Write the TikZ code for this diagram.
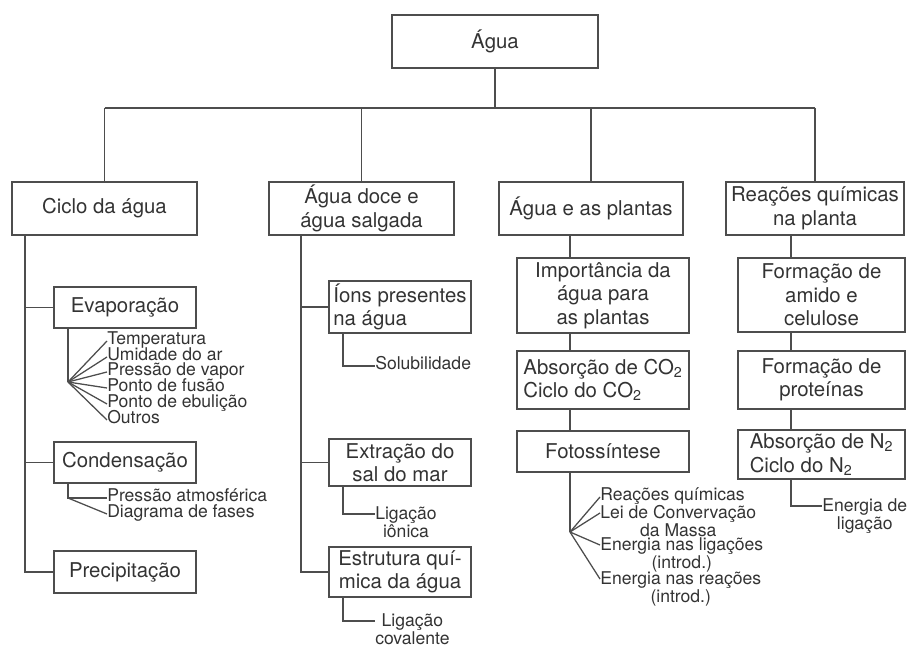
\documentclass[tikz,border=0pt]{standalone}
\usepackage{fontspec}
\setmainfont{TeX Gyre Heros}
\definecolor{ink}{HTML}{333333}
\definecolor{rule}{HTML}{4D4D4D}

\begin{document}
\begin{tikzpicture}[x=0.025cm,y=-0.025cm,
  topic/.style={draw=rule,line width=0.9pt,inner sep=2pt,align=center,text=ink,font=\fontsize{14.5}{16.7}\selectfont},
  leaf/.style={anchor=mid west,inner sep=0pt,align=center,text=ink,font=\fontsize{12.5}{11.2}\selectfont},
  twoleaf/.style={leaf,anchor=north west},
  link/.style={draw=rule,line width=0.9pt}]
  \useasboundingbox (0,0) rectangle (910,648);
  % root and first level
  \node[topic,minimum width=5.15cm,minimum height=1.325cm] (agua) at (495,41.5) {Água};
  \node[topic,minimum width=4.625cm,minimum height=1.325cm] (ciclo) at (104.5,208.5) {Ciclo da água};
  \node[topic,minimum width=4.625cm,minimum height=1.325cm] (doce) at (361.5,208.5) {Água doce e\\água salgada};
  \node[topic,minimum width=4.6cm,minimum height=1.325cm] (plantas) at (591,208.5) {Água e as plantas};
  \node[topic,minimum width=4.45cm,minimum height=1.325cm] (reacoes) at (815,208.5) {Reações químicas\\na planta};
  \coordinate (bus) at (0,108);
  \draw[link] (agua.south) -- (agua.south |- bus);
  \draw[link] (ciclo.north |- bus) -- (reacoes.north |- bus);
  \foreach \n in {ciclo,doce,plantas,reacoes}
    \draw[link] (\n.north |- bus) -- (\n.north);

  % ciclo da agua
  \node[topic,minimum width=3.55cm,minimum height=1.025cm] (evap) at (125,307.5) {Evaporação};
  \node[topic,minimum width=3.55cm,minimum height=1.025cm] (cond) at (125,462.5) {Condensação};
  \node[topic,minimum width=3.55cm,minimum height=1.05cm] (prec) at (125,572) {Precipitação};
  \coordinate (ta) at (25,0);
  \draw[link] (ta |- ciclo.south) -- (ta |- prec.west) -- (prec.west);
  \draw[link] (ta |- evap.west) -- (evap.west);
  \draw[link] (ta |- cond.west) -- (cond.west);
  \coordinate (fe) at (68,382);
  \node[leaf] (temp) at (107,341) {Temperatura};
  \node[leaf] (umid) at (107,357) {Umidade do ar};
  \node[leaf] (pvap) at (107,372) {Pressão de vapor};
  \node[leaf] (fusao) at (107,388) {Ponto de fusão};
  \node[leaf] (ebul) at (107,404) {Ponto de ebulição};
  \node[leaf] (outros) at (107,420) {Outros};
  \draw[link] (fe |- evap.south) -- (fe);
  \foreach \n in {temp,umid,pvap,fusao,ebul,outros}
    \draw[link] (fe) -- (\n.mid west);
  \coordinate (fc) at (68,498);
  \node[leaf] (patm) at (107,498) {Pressão atmosférica};
  \node[leaf] (diag) at (107,514) {Diagrama de fases};
  \draw[link] (fc |- cond.south) -- (fc) -- (patm.mid west);
  \draw[link] (fc) -- (diag.mid west);

  % agua doce e salgada
  \node[topic,minimum width=3.55cm,minimum height=1.25cm,align=left,inner xsep=1pt] (ions) at (400,307) {Íons presentes\\na água};
  \node[topic,minimum width=3.55cm,minimum height=1.175cm] (extr) at (400,462.5) {Extração do\\sal do mar};
  \node[topic,minimum width=3.55cm,minimum height=1.25cm] (estr) at (400,572) {Estrutura quí-\\mica da água};
  \coordinate (tb) at (301,0);
  \draw[link] (tb |- doce.south) -- (tb |- estr.west) -- (estr.west);
  \draw[link] (tb |- ions.west) -- (ions.west);
  \draw[link] (tb |- extr.west) -- (extr.west);
  \coordinate (tl) at (343,0);
  \node[leaf] (solub) at (375,366) {Solubilidade};
  \node[twoleaf] (lion) at (375,506) {Ligação\\iônica};
  \node[twoleaf] (lcov) at (375,613) {Ligação\\covalente};
  \draw[link] (tl |- ions.south) -- (tl |- solub.mid west) -- (solub.mid west);
  \draw[link] (tl |- extr.south) -- ([yshift=-5.7pt]tl |- lion.north west) -- ([yshift=-5.7pt]lion.north west);
  \draw[link] (tl |- estr.south) -- ([yshift=-5.7pt]tl |- lcov.north west) -- ([yshift=-5.7pt]lcov.north west);

  % agua e as plantas
  \node[topic,minimum width=4.3cm,minimum height=1.875cm] (imp) at (603,295.5) {Importância da\\água para\\as plantas};
  \node[topic,minimum width=4.3cm,minimum height=1.45cm,align=left] (co2) at (603,380) {Absorção de CO\textsubscript{2}\\Ciclo do CO\textsubscript{2}};
  \node[topic,minimum width=4.3cm,minimum height=1.025cm] (foto) at (603,451.5) {Fotossíntese};
  \coordinate (tc) at (570,0);
  \draw[link] (tc |- plantas.south) -- (tc |- imp.north);
  \draw[link] (tc |- imp.south) -- (tc |- co2.north);
  \draw[link] (tc |- co2.south) -- (tc |- foto.north);
  \coordinate (ff) at (570,532);
  \node[leaf] (rq) at (600,497) {Reações químicas};
  \node[twoleaf] (lei) at (600,505) {Lei de Convervação\\da Massa};
  \node[twoleaf] (elig) at (600,537) {Energia nas ligações\\(introd.)};
  \node[twoleaf] (erea) at (600,571) {Energia nas reações\\(introd.)};
  \draw[link] (ff |- foto.south) -- (ff);
  \draw[link] (ff) -- (rq.mid west);
  \foreach \n in {lei,elig,erea}
    \draw[link] (ff) -- ([yshift=-5.7pt]\n.north west);

  % reacoes quimicas na planta
  \node[topic,minimum width=4.175cm,minimum height=1.85cm] (amido) at (821.5,295) {Formação de\\amido e\\celulose};
  \node[topic,minimum width=4.175cm,minimum height=1.45cm] (prot) at (821.5,380) {Formação de\\proteínas};
  \node[topic,minimum width=4.175cm,minimum height=1.225cm,align=left] (n2) at (821.5,454.5) {Absorção de N\textsubscript{2}\\Ciclo do N\textsubscript{2}};
  \coordinate (td) at (791,0);
  \draw[link] (td |- reacoes.south) -- (td |- amido.north);
  \draw[link] (td |- amido.south) -- (td |- prot.north);
  \draw[link] (td |- prot.south) -- (td |- n2.north);
  \node[twoleaf] (elig2) at (822,498) {Energia de\\ligação};
  \draw[link] (td |- n2.south) -- ([yshift=-5.7pt]td |- elig2.north west) -- ([yshift=-5.7pt]elig2.north west);
\end{tikzpicture}
\end{document}
